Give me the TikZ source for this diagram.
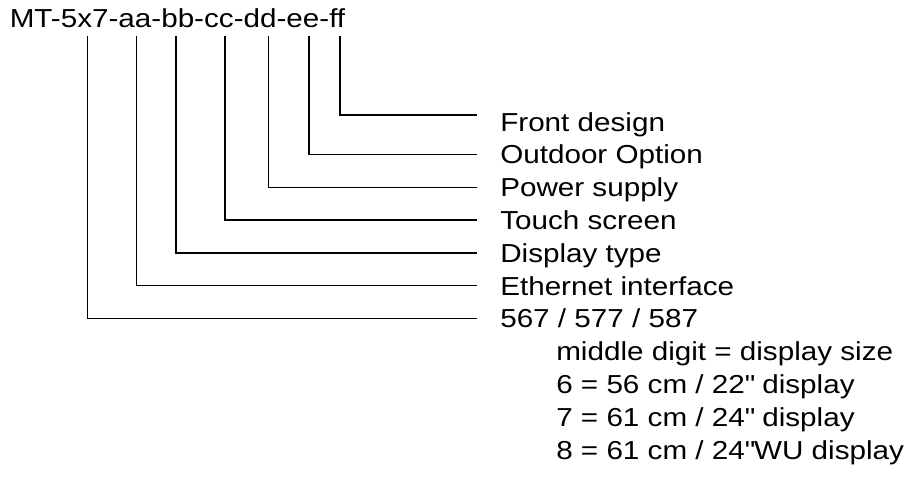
\documentclass[tikz,border=0pt]{standalone}
\usepackage{fontspec}
\setmainfont{Liberation Sans}[FakeStretch=1.14]
\usetikzlibrary{positioning}

\begin{document}
\begin{tikzpicture}[%
    x=0.75pt, y=-0.75pt,
    node distance=24.6pt,
    on grid,
    item/.style={anchor=west, inner sep=0pt, text height=14pt, text depth=0pt,
      font=\fontsize{19.5}{23}\selectfont},
    leader/.style={line width=1.1pt}
  ]

  \useasboundingbox (0,0) rectangle (906,477);

  % the type code
  \node[item, anchor=base west] (code) at (9.5,28) {MT-5x7-aa-bb-cc-dd-ee-ff};

  % what each part means
  \node[item] (front) at (500,121.7) {Front design};
  \node[item] (outdoor) [below=of front.west, anchor=west] {Outdoor Option};
  \node[item] (power) [below=of outdoor.west, anchor=west] {Power supply};
  \node[item] (touch) [below=of power.west, anchor=west] {Touch screen};
  \node[item] (disptype) [below=of touch.west, anchor=west] {Display type};
  \node[item] (ether) [below=of disptype.west, anchor=west] {Ethernet interface};
  \node[item] (size) [below=of ether.west, anchor=west] {567 / 577 / 587};
  \node[item] (digit) [below right=24.6pt and 42pt of size.west, anchor=west] {middle digit = display size};
  \node[item] (six) [below=of digit.west, anchor=west] {6 = 56 cm / 22\textquotedbl{} display};
  \node[item] (seven) [below=of six.west, anchor=west] {7 = 61 cm / 24\textquotedbl{} display};
  \node[item] (eight) [below=of seven.west, anchor=west] {8 = 61 cm / 24\textquotedbl WU display};

  \coordinate (sizeTop)  at (87.7,36);
  \coordinate (etherTop) at (136.7,36);
  \coordinate (bbTop)    at (176,36);
  \coordinate (ccTop)    at (225,36);
  \coordinate (ddTop)    at (268.3,36);
  \coordinate (eeTop)    at (309,36);
  \coordinate (ffTop)    at (340,36);

  \draw[leader] (ffTop) |- ([xshift=-17.5pt, yshift=5pt]front.west);
  \draw[leader] (eeTop) |- ([xshift=-17.5pt]outdoor.west);
  \draw[leader] (ddTop) |- ([xshift=-17.5pt]power.west);
  \draw[leader] (ccTop) |- ([xshift=-17.5pt]touch.west);
  \draw[leader] (bbTop) |- ([xshift=-17.5pt]disptype.west);
  \draw[leader] (etherTop) |- ([xshift=-17.5pt]ether.west);
  \draw[leader] (sizeTop) |- ([xshift=-17.5pt]size.west);
\end{tikzpicture}
\end{document}
